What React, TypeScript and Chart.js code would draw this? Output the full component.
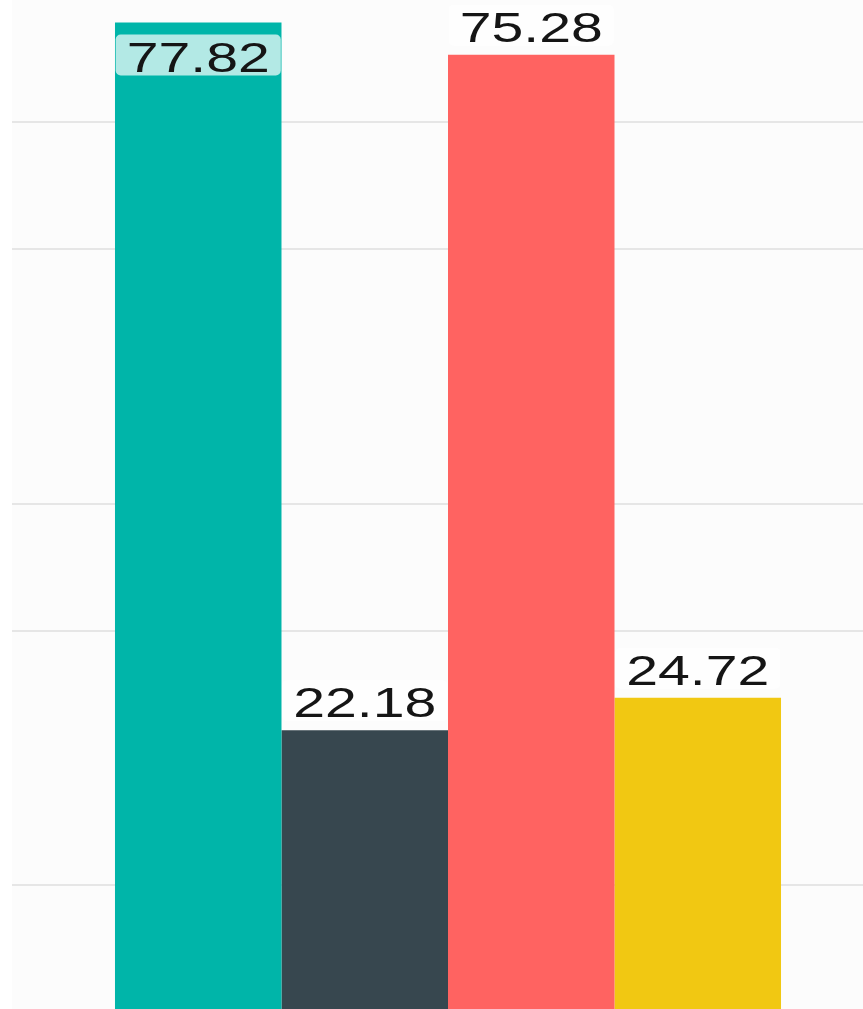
import React, { useEffect, useRef } from "react";
import { Chart, registerables } from "chart.js";

Chart.register(...registerables);

// ---- data ----
const categories = [""];
const seriesNames = ["Series A", "Series B", "Series C", "Series D"];
const seriesValues = [77.82, 22.18, 75.28, 24.72];
const seriesColors = ["#00b5a9", "#37474f", "#ff6361", "#f1c812"];
const gridValues = [0, 10, 30, 40, 60, 70, 80];
const yMin = 0;
const yMax = 80;

const TEXT_SX = 1.33;
const FONT = '400 43px "Liberation Sans", Arial, sans-serif';

const bgPlugin = {
  id: "areaBg",
  beforeDraw(chart: any) {
    const { ctx, chartArea } = chart;
    ctx.save();
    ctx.fillStyle = "#fcfcfc";
    ctx.fillRect(chartArea.left, chartArea.top, chartArea.right - chartArea.left, chartArea.bottom - chartArea.top);
    ctx.restore();
  },
};

const labelPlugin = {
  id: "valueLabels",
  afterDatasetsDraw(chart: any) {
    const { ctx, chartArea } = chart;
    chart.data.datasets.forEach((ds: any, i: number) => {
      const meta = chart.getDatasetMeta(i);
      meta.data.forEach((bar: any, j: number) => {
        const text = Number(ds.data[j]).toFixed(2);
        ctx.save();
        ctx.font = FONT;
        const w = ctx.measureText(text).width * TEXT_SX;
        const boxW = w + 22;
        const boxH = 41;
        let boxTop = bar.y - 9 - boxH;
        if (boxTop < chartArea.top) boxTop = bar.y + 12;
        const boxLeft = bar.x - boxW / 2;
        ctx.beginPath();
        (ctx as any).roundRect(boxLeft, boxTop, boxW, boxH, 5);
        ctx.fillStyle = "rgba(255,255,255,0.7)";
        ctx.fill();
        ctx.translate(bar.x, boxTop + 37);
        ctx.scale(TEXT_SX, 1);
        ctx.textAlign = "center";
        ctx.textBaseline = "alphabetic";
        ctx.fillStyle = "#151515";
        ctx.fillText(text, 0, 0);
        ctx.restore();
      });
    });
  },
};

export default function App() {
  const ref = useRef<HTMLCanvasElement | null>(null);

  useEffect(() => {
    if (!ref.current) return;
    const chart = new Chart(ref.current, {
      type: "bar",
      data: {
        labels: categories,
        datasets: seriesNames.map((name, i) => ({
          label: name,
          data: [seriesValues[i]],
          backgroundColor: seriesColors[i],
          borderWidth: 0,
          categoryPercentage: 0.7638,
          barPercentage: 1,
        })),
      },
      options: {
        animation: false,
        responsive: false,
        devicePixelRatio: 1,
        layout: { padding: { left: 12, right: 16, top: 14.8, bottom: 7.8 } },
        plugins: { legend: { display: false }, tooltip: { enabled: false } },
        scales: {
          x: { display: false },
          y: {
            display: true,
            min: yMin,
            max: yMax,
            afterBuildTicks: (axis: any) => {
              axis.ticks = gridValues.map((v) => ({ value: v }));
            },
            ticks: { display: false },
            border: { display: false },
            grid: { color: "#e6e6e6", lineWidth: 2, drawTicks: false },
          },
        },
      },
      plugins: [bgPlugin, labelPlugin],
    });
    return () => chart.destroy();
  }, []);

  return (
    <div
      style={{
        position: "fixed",
        left: 0,
        top: 0,
        width: 863,
        height: 1009,
        overflow: "hidden",
        background: "#ffffff",
      }}
    >
      <canvas ref={ref} width={900} height={1040} style={{ position: "absolute", left: 0, top: -20 }} />
    </div>
  );
}
